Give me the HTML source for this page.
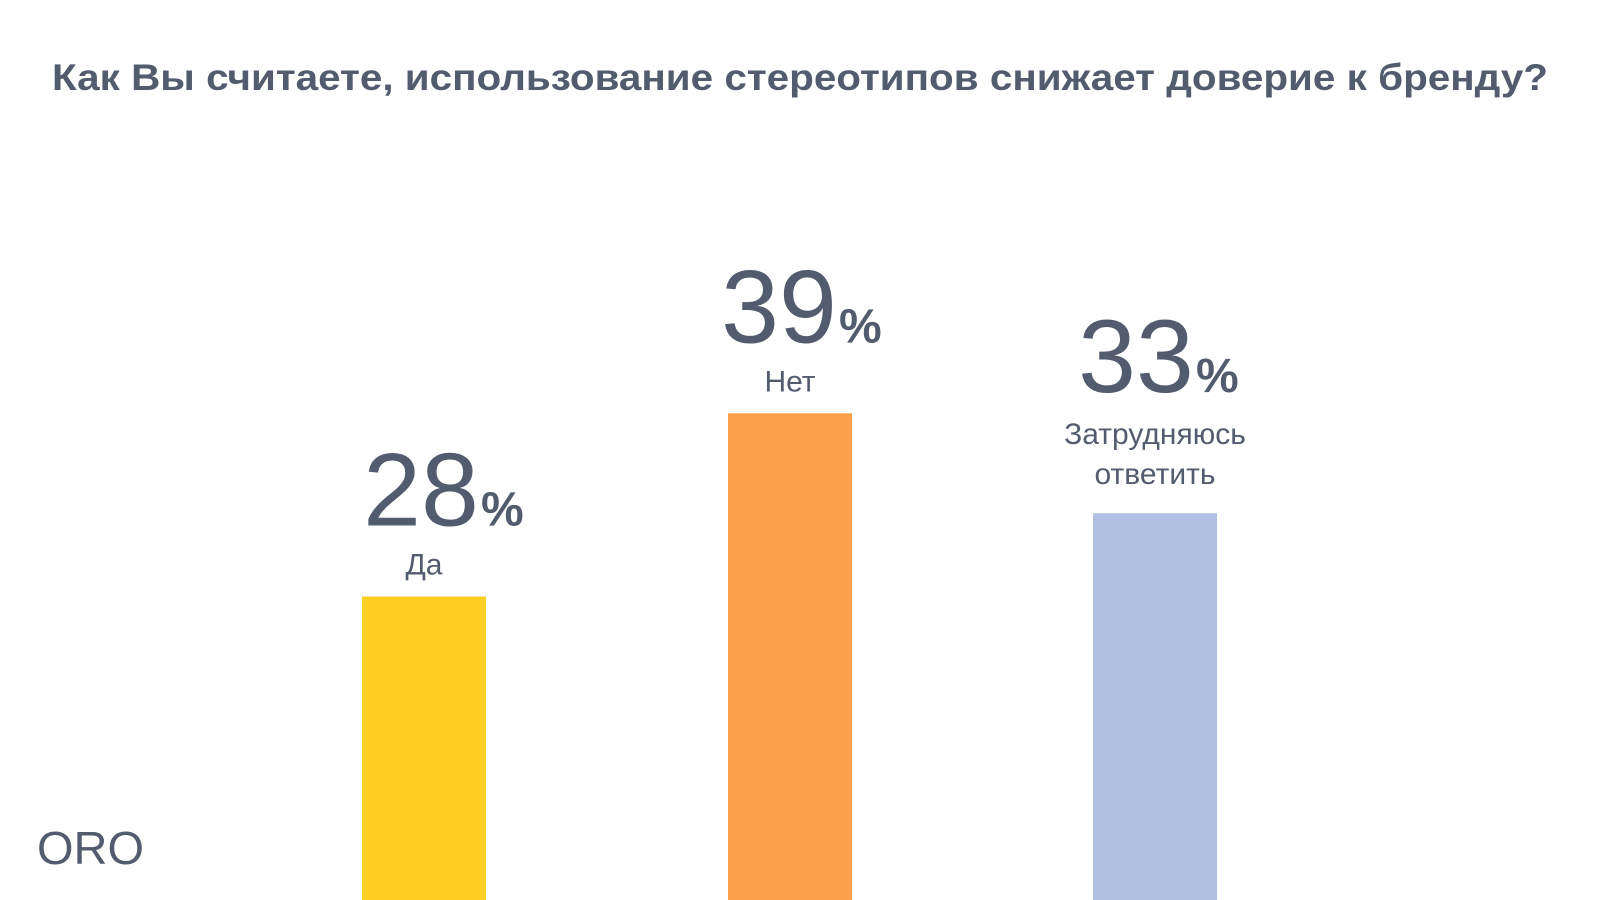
<!DOCTYPE html>
<html><head><meta charset="utf-8"><style>
html,body{margin:0;padding:0;background:#fff;}
svg{display:block;font-family:"Liberation Sans",sans-serif;}
</style></head><body>
<svg id="chart" width="1600" height="900" viewBox="0 0 1600 900">
<text x="800" y="90" text-anchor="middle" font-size="37" font-weight="bold" fill="#535b6f" textLength="1496" lengthAdjust="spacingAndGlyphs">Как Вы считаете, использование стереотипов снижает доверие к бренду?</text>
<text x="37" y="864" font-size="46" fill="#535b6f" textLength="107" lengthAdjust="spacingAndGlyphs">ORO</text>
<g id="bars"></g>
</svg>
<script>
const categories = ["Да", "Нет", "Затрудняюсь|ответить"];
const values = [28, 39, 33];
const colors = ["#fccf22", "#fea14c", "#b1bfe2"];
const NS = "http://www.w3.org/2000/svg";
const baseY = 900, barW = 124;
const centers = [424, 790, 1155];
const numOffsets = [-3, -11, -19];
function yScale(v){ return baseY - (16.66 * v - 163); }
const g = document.getElementById("bars");
values.forEach((v, i) => {
  const top = yScale(v), cx = centers[i];
  const r = document.createElementNS(NS, "rect");
  r.setAttribute("x", cx - barW/2); r.setAttribute("y", top);
  r.setAttribute("width", barW); r.setAttribute("height", baseY - top);
  r.setAttribute("fill", colors[i]);
  
  
  g.appendChild(r);
  const lines = categories[i].split("|");
  const lh = 40;
  let lastBase = top - (lines.length > 1 ? 29 : 22);
  lines.forEach((ln, j) => {
    const t = document.createElementNS(NS, "text");
    t.setAttribute("x", cx); t.setAttribute("y", lastBase - (lines.length-1-j)*lh);
    t.setAttribute("text-anchor", "middle"); t.setAttribute("font-size", "30");
    t.setAttribute("fill", "#535b6f"); t.textContent = ln;
    
    
    g.appendChild(t);
  });
  const numBase = lastBase - (lines.length-1)*lh - (lines.length > 1 ? 52 : 49);
  const nx = cx + numOffsets[i];
  const n = document.createElementNS(NS, "text");
  n.setAttribute("x", nx); n.setAttribute("y", numBase);
  n.setAttribute("text-anchor", "middle"); n.setAttribute("font-size", "104");
  n.setAttribute("fill", "#535b6f"); n.textContent = String(v);
  
  
  g.appendChild(n);
  const p = document.createElementNS(NS, "text");
  p.setAttribute("x", nx + 60); p.setAttribute("y", numBase);
  p.setAttribute("font-size", "48"); p.setAttribute("font-weight", "bold");
  p.setAttribute("fill", "#535b6f"); p.textContent = "%";
  
  
  g.appendChild(p);
});
</script>
</body></html>
